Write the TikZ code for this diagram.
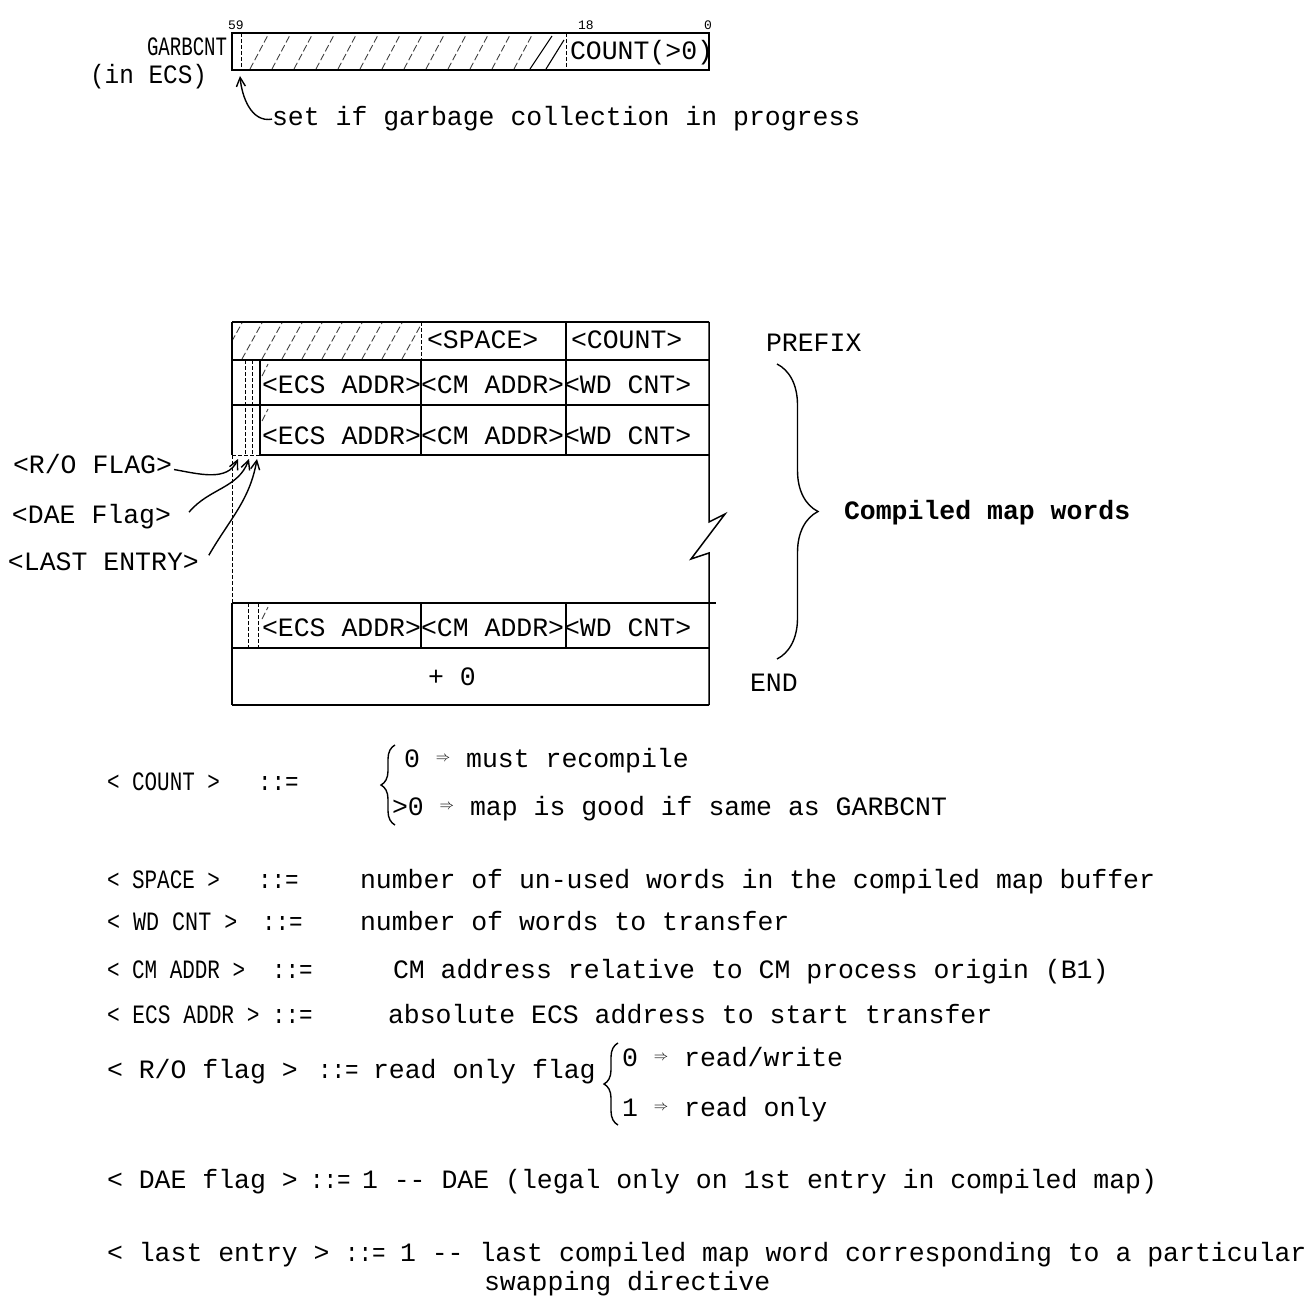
\documentclass[tikz,border=0pt]{standalone}
\usepackage{fontspec}
\usepackage{graphicx}
\setmonofont{Liberation Mono}
\usetikzlibrary{arrows.meta, decorations.pathreplacing}
\newcommand\tw{\fontsize{26.5}{30}\selectfont\ttfamily}
\newcommand\twsmall{\fontsize{13}{15}\selectfont\ttfamily}
\newcommand\narrowtx[2][0.79]{\scalebox{#1}[1]{#2}}
\newcommand\impl{\raisebox{6pt}{\fontsize{15}{15}\selectfont$\Rightarrow$}}
\newcommand\isdef{\narrowtx[0.85]{::=}}

\begin{document}
\begin{tikzpicture}[x=1pt, y=-1pt,
    every node/.style={inner sep=0pt, outer sep=0pt},
    txt/.style={font=\tw, anchor=base west},
    cell/.style={font=\tw, anchor=base west},
    bitno/.style={font=\twsmall, anchor=base west},
    frame/.style={line width=1.5pt},
    thinline/.style={line width=1pt, dash pattern=on 4pt off 2pt},
    hatch/.style={line width=0.9pt, dash pattern=on 7pt off 3pt, black!75},
    barb/.style={line width=1.4pt, -{Straight Barb[length=9pt,width=9pt]}},
    bigbrace/.style={line width=1.4pt, decorate, decoration={brace, amplitude=#1}}
]
\useasboundingbox (0,0) rectangle (1316,1305);

% GARBCNT word
\node[txt] (garbcnt) at (147,56) {\narrowtx[0.72]{GARBCNT}};
\node[txt] (inecs) at (90,84) {\narrowtx[0.92]{(in ECS)}};
\draw[frame] (232,33) rectangle (709,70);
\draw[thinline] (241,33) -- (241,70);
\draw[thinline] (566,33) -- (566,70);
\begin{scope}
  \clip (244,35) rectangle (562,69);
  \foreach \x in {250,272,...,520}
    \draw[hatch] (\x,69) -- ++(18,-34);
\end{scope}
\draw[line width=1.1pt] (530,69) -- (552,36) (546,69) -- (564,40);
\node[bitno] (bit59) at (228,30) {59};
\node[bitno] (bit18) at (578,30) {18};
\node[bitno] (bit0) at (704,30) {0};
\node[txt] (countbits) at (570,60) {COUNT(>0)};
\node[txt] (setnote) at (272,126) {set if garbage collection in progress};
\coordinate (gcbit) at (240,76);
\draw[barb] (setnote.west) to[out=190,in=-85] (gcbit);

% compiled map table
\draw[frame] (232,322) -- (709,322);
\draw[frame] (232,360) -- (709,360);
\draw[frame] (232,405) -- (709,405);
\draw[thinline] (232,455) -- (260,455);
\draw[frame] (260,455) -- (709,455);
\draw[frame] (232,603) -- (716,603);
\draw[frame] (232,648) -- (709,648);
\draw[frame] (232,705) -- (709,705);
\draw[frame] (232,322) -- (232,455);
\draw[thinline] (232,455) -- (232,603);
\draw[frame] (232,603) -- (232,705);
\draw[frame] (709,322) -- (709,522) -- (725,514) -- (691,559) -- (709,553) -- (709,705);
\draw[thinline] (421,322) -- (421,360);
\draw[frame] (421,360) -- (421,455) (421,603) -- (421,648);
\draw[frame] (566,322) -- (566,455) (566,603) -- (566,648);
\draw[frame] (260,360) -- (260,455);
\draw[thinline] (252,360) -- (252,455);
\draw[thinline] (245,360) -- (245,455);
\draw[thinline] (248,603) -- (248,648);
\draw[thinline] (258,603) -- (258,648);
\begin{scope}
  \clip (233,323) rectangle (420,359);
  \foreach \x in {222,242,...,420}
    \draw[hatch] (\x,359) -- ++(20,-36);
\end{scope}
\foreach \y in {362,407,605}
  \draw[hatch] (262,\y+14) -- ++(6,-12);

\node[cell] (space) at (427,348) {<SPACE>};
\node[cell] (count) at (571,348) {<COUNT>};
\node[cell] (ecsa) at (262,393) {<ECS ADDR>};
\node[cell] (cma) at (421,393) {<CM ADDR>};
\node[cell] (wda) at (564,393) {<WD CNT>};
\node[cell] (ecsb) at (262,444) {<ECS ADDR>};
\node[cell] (cmb) at (421,444) {<CM ADDR>};
\node[cell] (wdb) at (564,444) {<WD CNT>};
\node[cell] (ecsn) at (262,636) {<ECS ADDR>};
\node[cell] (cmn) at (421,636) {<CM ADDR>};
\node[cell] (wdn) at (564,636) {<WD CNT>};
\node[font=\tw, anchor=base] (zero) at (452,685) {+ 0};

\node[txt] (prefix) at (766,352) {PREFIX};
\node[txt] (endlbl) at (750,691) {END};
\draw[bigbrace=41] (777,364) -- (777,659);
\node[txt, font=\tw\bfseries] (cmwords) at (844,519) {Compiled map words};

% flag bits
\node[txt] (rolbl) at (13,473) {<R/O FLAG>};
\node[txt] (daelbl) at (12,523) {<DAE Flag>};
\node[txt] (lastlbl) at (8,570) {<LAST ENTRY>};
\coordinate (robit) at (238,459);
\coordinate (daebit) at (249,459);
\coordinate (lastbit) at (257,459);
\draw[barb] (rolbl.east) ++(2,6) to[out=-10,in=-115] (robit);
\draw[barb] (daelbl.east) ++(18,-4) to[out=50,in=-110] (daebit);
\draw[barb] (lastlbl.east) ++(10,-6) to[out=60,in=-100] (lastbit);

% definitions
\node[txt] (cntlbl) at (107,790) {\narrowtx{< COUNT >}};
\node[txt] (cntis) at (258,790) {\isdef};
\draw[bigbrace=14] (395,825) -- (395,745);
\node[txt] (cntzero) at (404,767) {0 \impl{} must recompile};
\node[txt] (cntpos) at (392,815) {>0 \impl{} map is good if same as GARBCNT};

\node[txt] (spclbl) at (107,888) {\narrowtx{< SPACE >}};
\node[txt] (spcis) at (258,888) {\isdef};
\node[txt] (spcdef) at (360,888) {number of un-used words in the compiled map buffer};

\node[txt] (wdlbl) at (107,930) {\narrowtx[0.82]{< WD CNT >}};
\node[txt] (wdis) at (262,930) {\isdef};
\node[txt] (wddef) at (360,930) {number of words to transfer};

\node[txt] (cmlbl) at (107,978) {\narrowtx{< CM ADDR >}};
\node[txt] (cmis) at (272,978) {\isdef};
\node[txt] (cmdef) at (393,978) {CM address relative to CM process origin (B1)};

\node[txt] (ecslbl) at (107,1023) {\narrowtx[0.8]{< ECS ADDR >}};
\node[txt] (ecsis) at (272,1023) {\isdef};
\node[txt] (ecsdef) at (388,1023) {absolute ECS address to start transfer};

\node[txt] (rolbl2) at (107,1078) {< R/O flag >};
\node[txt] (rois) at (318,1078) {\isdef};
\node[txt] (rodef) at (373,1078) {read only flag};
\draw[bigbrace=14] (618,1125) -- (618,1043);
\node[txt] (rozero) at (622,1066) {0 \impl{} read/write};
\node[txt] (roone) at (622,1116) {1 \impl{} read only};

\node[txt] (daelbl2) at (107,1188) {< DAE flag >};
\node[txt] (daeis) at (310,1188) {\isdef};
\node[txt] (daedef) at (362,1188) {1 -- DAE (legal only on 1st entry in compiled map)};

\node[txt] (lastlbl2) at (107,1261) {< last entry >};
\node[txt] (lastis) at (345,1261) {\isdef};
\node[txt] (lastdef) at (400,1261) {1 -- last compiled map word corresponding to a particular};
\node[txt] (lastdef2) at (484,1290) {swapping directive};
\end{tikzpicture}
\end{document}
